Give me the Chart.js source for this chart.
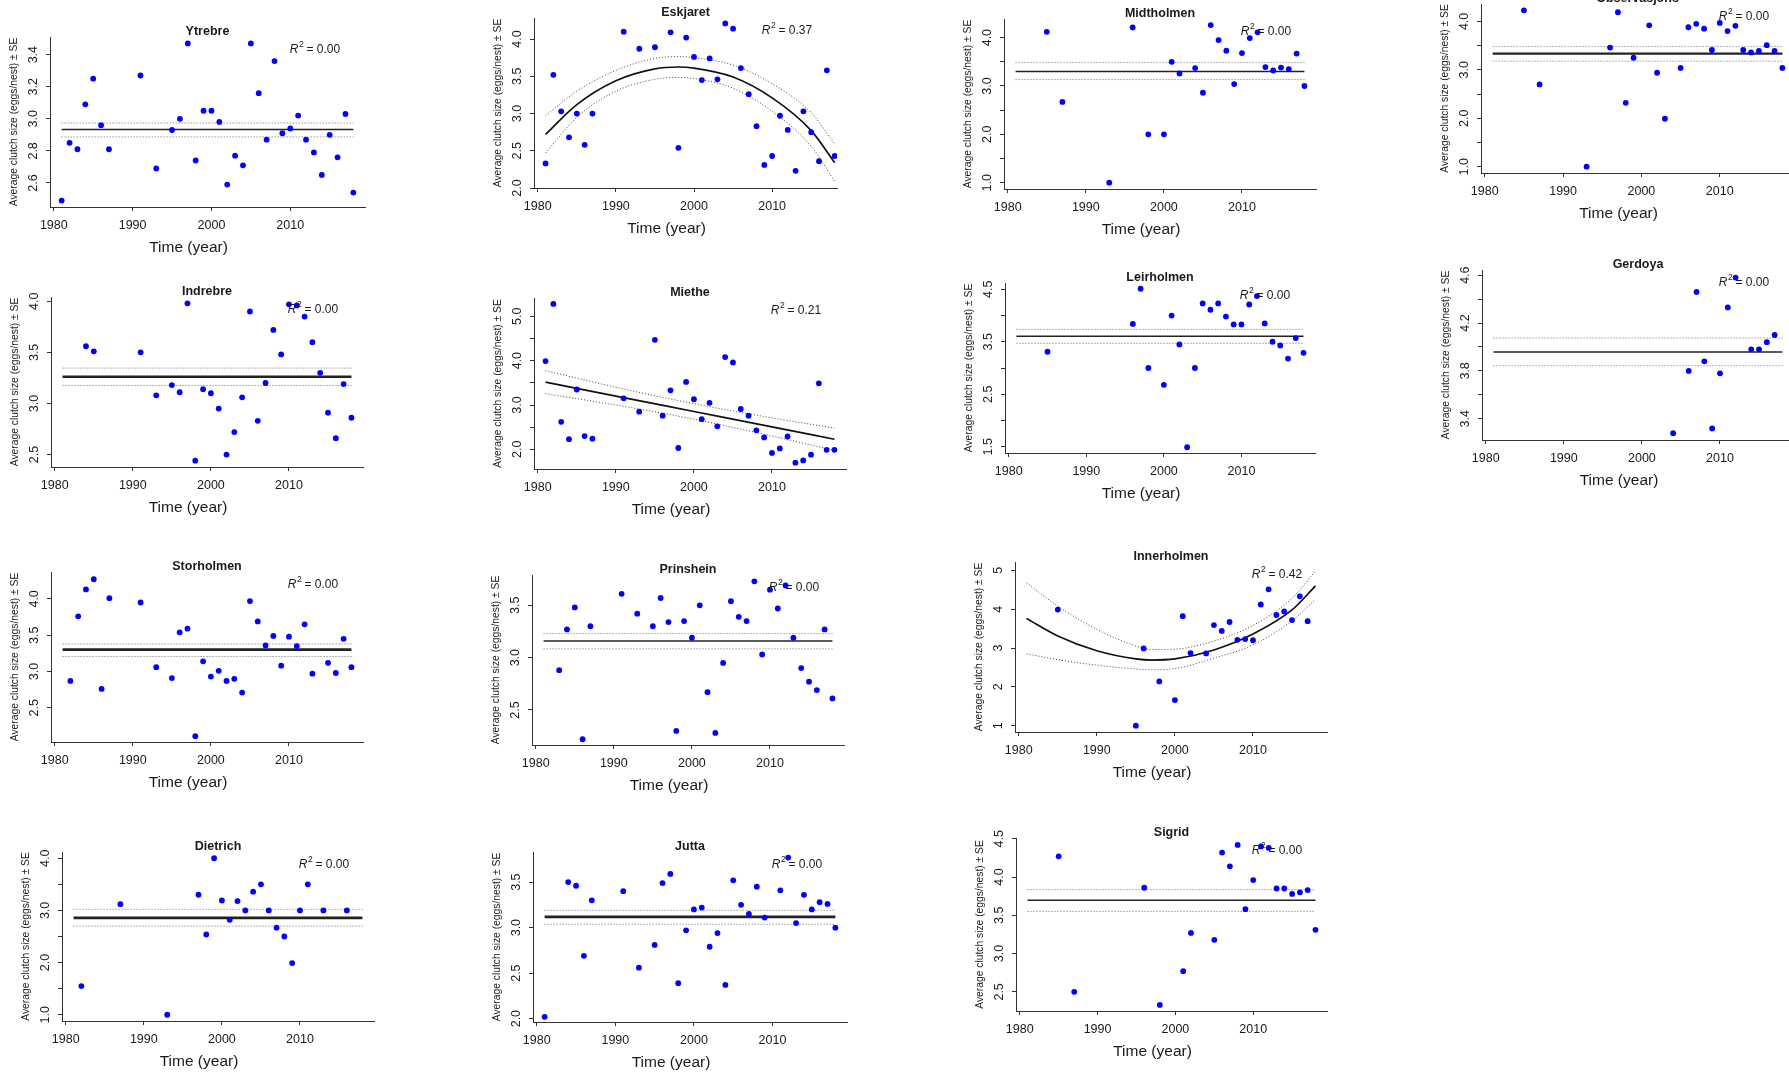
<!DOCTYPE html>
<html>
<head>
<meta charset="utf-8">
<script src="https://cdn.jsdelivr.net/npm/chart.js@4.4.0/dist/chart.umd.min.js"></script>
<style>
html, body { margin: 0; padding: 0; background: #fff; overflow: hidden; }
#page { position: relative; width: 1789px; height: 1076px; overflow: hidden; background: #fff; }
#page canvas { position: absolute; }
</style>
</head>
<body>
<div id="page"></div>
<script>
// ---- data ----
const yearTicks = [1980, 1990, 2000, 2010];

const ytrebreYears = [1981,1982,1983,1984,1985,1986,1987,1991,1993,1995,1996,1997,1998,1999,2000,2001,2002,2003,2004,2005,2006,2007,2008,2009,2010,2011,2012,2013,2014,2015,2016,2017,2018];
const ytrebreSize = [2.49,2.85,2.81,3.09,3.25,2.96,2.81,3.27,2.69,2.93,3.00,3.47,2.74,3.05,3.05,2.98,2.59,2.77,2.71,3.47,3.16,2.87,3.36,2.91,2.94,3.02,2.87,2.79,2.65,2.90,2.76,3.03,2.54];
const ytrebreMean = [2.934, 2.974, 2.887];

const eskjaretYears = [1981,1982,1983,1984,1985,1986,1987,1991,1993,1995,1997,1998,1999,2000,2001,2002,2003,2004,2005,2006,2007,2008,2009,2010,2011,2012,2013,2014,2015,2016,2017,2018];
const eskjaretSize = [2.33,3.52,3.03,2.68,3.00,2.58,3.00,4.10,3.87,3.89,4.09,2.54,4.02,3.76,3.45,3.74,3.46,4.21,4.14,3.61,3.26,2.83,2.31,2.43,2.97,2.78,2.23,3.03,2.75,2.36,3.58,2.43];
const eskjaretFitYears = [1981,1985,1990,1995,1998,2000,2005,2010,2015,2018];
const eskjaretFit = [2.72,3.12,3.44,3.60,3.625,3.61,3.49,3.21,2.77,2.34];
const eskjaretUpper = [2.97,3.30,3.58,3.74,3.765,3.75,3.65,3.40,3.01,2.59];
const eskjaretLower = [2.47,2.95,3.30,3.46,3.485,3.47,3.34,3.03,2.56,2.09];

const midtholmenYears = [1985,1987,1993,1996,1998,2000,2001,2002,2004,2005,2006,2007,2008,2009,2010,2011,2012,2013,2014,2015,2016,2017,2018];
const midtholmenSize = [4.12,2.67,1.00,4.21,2.00,2.00,3.50,3.26,3.37,2.86,4.26,3.95,3.73,3.04,3.68,3.99,4.11,3.39,3.32,3.38,3.35,3.67,3.00];
const midtholmenMean = [3.298, 3.484, 3.133];

const observYears = [1985,1987,1993,1996,1997,1998,1999,2001,2002,2003,2005,2006,2007,2008,2009,2010,2011,2012,2013,2014,2015,2016,2017,2018];
const observSize = [4.23,2.70,1.00,3.46,4.19,2.32,3.25,3.92,2.94,1.99,3.04,3.88,3.95,3.85,3.41,3.97,3.80,3.91,3.41,3.36,3.39,3.51,3.39,3.04];
const observMean = [3.337, 3.481, 3.180];

const indrebreYears = [1984,1985,1991,1993,1995,1996,1997,1998,1999,2000,2001,2002,2003,2004,2005,2006,2007,2008,2009,2010,2011,2012,2013,2014,2015,2016,2017,2018];
const indrebreSize = [3.56,3.51,3.50,3.08,3.18,3.11,3.98,2.44,3.14,3.10,2.95,2.50,2.72,3.06,3.90,2.83,3.20,3.72,3.48,3.97,3.96,3.85,3.60,3.30,2.91,2.66,3.19,2.86];
const indrebreMean = [3.261, 3.346, 3.176];

const mietheYears = [1981,1982,1983,1984,1985,1986,1987,1991,1993,1995,1996,1997,1998,1999,2000,2001,2002,2003,2004,2005,2006,2007,2008,2009,2010,2011,2012,2013,2014,2015,2016,2017,2018];
const mietheSize = [3.99,5.28,2.62,2.23,3.35,2.30,2.24,3.15,2.85,4.47,2.76,3.33,2.03,3.52,3.13,2.68,3.05,2.52,4.08,3.96,2.91,2.76,2.43,2.27,1.92,2.02,2.29,1.70,1.75,1.88,3.49,1.99,1.99];
const mietheFitYears = [1981,1990,2000,2010,2018];
const mietheFit = [3.515,3.202,2.854,2.506,2.227];
const mietheUpper = [3.775,3.40,3.03,2.71,2.48];
const mietheLower = [3.255,3.00,2.68,2.30,1.977];

const leirholmenYears = [1985,1996,1997,1998,2000,2001,2002,2003,2004,2005,2006,2007,2008,2009,2010,2011,2012,2013,2014,2015,2016,2017,2018];
const leirholmenSize = [3.31,3.84,4.51,3.00,2.68,4.00,3.45,1.49,3.00,4.23,4.11,4.23,3.98,3.83,3.83,4.21,4.37,3.85,3.50,3.43,3.18,3.57,3.29];
const leirholmenMean = [3.604, 3.737, 3.470];

const gerdoyaYears = [2004,2006,2007,2008,2009,2010,2011,2012,2014,2015,2016,2017];
const gerdoyaSize = [3.28,3.80,4.46,3.88,3.32,3.78,4.33,4.58,3.98,3.98,4.04,4.10];
const gerdoyaMean = [3.959, 4.075, 3.843];

const storholmenYears = [1982,1983,1984,1985,1986,1987,1991,1993,1995,1996,1997,1998,1999,2000,2001,2002,2003,2004,2005,2006,2007,2008,2009,2010,2011,2012,2013,2015,2016,2017,2018];
const storholmenSize = [2.87,3.76,4.13,4.27,2.76,4.01,3.95,3.06,2.91,3.54,3.59,2.11,3.14,2.93,3.01,2.87,2.90,2.71,3.97,3.69,3.36,3.49,3.08,3.48,3.35,3.65,2.97,3.12,2.98,3.45,3.06];
const storholmenMean = [3.302, 3.380, 3.207];

const prinsheinYears = [1983,1984,1985,1986,1987,1991,1993,1995,1996,1997,1998,1999,2000,2001,2002,2003,2004,2005,2006,2007,2008,2009,2010,2011,2012,2013,2014,2015,2016,2017,2018];
const prinsheinSize = [2.88,3.27,3.48,2.22,3.30,3.61,3.42,3.30,3.57,3.34,2.30,3.35,3.19,3.50,2.67,2.28,2.95,3.54,3.39,3.35,3.73,3.03,3.65,3.47,3.69,3.19,2.90,2.77,2.69,3.27,2.61];
const prinsheinMean = [3.160, 3.230, 3.084];

const innerYears = [1985,1995,1996,1998,2000,2001,2002,2004,2005,2006,2007,2008,2009,2010,2011,2012,2013,2014,2015,2016,2017];
const innerSize = [3.99,1.00,2.99,2.14,1.66,3.82,2.87,2.86,3.59,3.44,3.67,3.21,3.23,3.20,4.12,4.51,3.85,3.94,3.72,4.33,3.69];
const innerFitYears = [1981,1985,1990,1995,1997,2000,2005,2010,2015,2018];
const innerFit = [3.76,3.31,2.93,2.72,2.69,2.72,2.95,3.36,3.98,4.60];
const innerUpper = [4.68,4.08,3.48,3.05,2.96,2.97,3.18,3.58,4.28,4.98];
const innerLower = [2.85,2.70,2.56,2.46,2.44,2.47,2.74,3.08,3.70,4.25];

const dietrichYears = [1982,1987,1993,1997,1998,1999,2000,2001,2002,2003,2004,2005,2006,2007,2008,2009,2010,2011,2013,2016];
const dietrichSize = [1.55,3.12,1.00,3.30,2.54,4.00,3.19,2.82,3.18,3.00,3.36,3.50,3.00,2.67,2.50,1.99,3.00,3.50,3.00,3.00];
const dietrichMean = [2.857, 3.021, 2.699];

const juttaYears = [1981,1984,1985,1986,1987,1991,1993,1995,1996,1997,1998,1999,2000,2001,2002,2003,2004,2005,2006,2007,2008,2009,2011,2012,2013,2014,2015,2016,2017,2018];
const juttaSize = [2.02,3.50,3.46,2.69,3.30,3.40,2.56,2.81,3.49,3.59,2.39,2.97,3.20,3.22,2.79,2.94,2.37,3.52,3.25,3.15,3.45,3.11,3.41,3.77,3.05,3.36,3.20,3.28,3.26,3.00];
const juttaMean = [3.118, 3.191, 3.037];

const sigridYears = [1985,1987,1996,1998,2001,2002,2005,2006,2007,2008,2009,2010,2011,2012,2013,2014,2015,2016,2017,2018];
const sigridSize = [4.27,2.50,3.86,2.33,2.77,3.27,3.18,4.32,4.14,4.42,3.58,3.96,4.40,4.38,3.85,3.85,3.78,3.80,3.83,3.31];
const sigridMean = [3.696, 3.836, 3.551];

// ---- panel table ----
const panels = [
  {name: 'Ytrebre', box: [50, 37, 365, 207], y: [2.45, 3.51], yTicks: [2.6,2.8,3.0,3.2,3.4], yLab: [2.6,2.8,3.0,3.2,3.4], years: ytrebreYears, size: ytrebreSize, mean: ytrebreMean, r2: '0.00'},
  {name: 'Eskjaret', box: [534, 18, 837, 188], xMax: 2018.3, y: [2.0, 4.283], yTicks: [2.0,2.5,3.0,3.5,4.0], yLab: [2.0,2.5,3.0,3.5,4.0], years: eskjaretYears, size: eskjaretSize, fit: [eskjaretFitYears, eskjaretFit, eskjaretUpper, eskjaretLower], r2: '0.37'},
  {name: 'Midtholmen', box: [1004, 19, 1316, 189], y: [0.87, 4.385], yTicks: [1.0,1.5,2.0,2.5,3.0,3.5,4.0], yLab: [1.0,2.0,3.0,4.0], years: midtholmenYears, size: midtholmenSize, mean: midtholmenMean, r2: '0.00'},
  {name: 'Observasjons', box: [1481, 4, 1794, 173], y: [0.87, 4.36], yTicks: [1.0,1.5,2.0,2.5,3.0,3.5,4.0], yLab: [1.0,2.0,3.0,4.0], years: observYears, size: observSize, mean: observMean, r2: '0.00', lw: 2.2},
  {name: 'Indrebre', box: [51, 297, 363, 467], y: [2.378, 4.042], yTicks: [2.5,3.0,3.5,4.0], yLab: [2.5,3.0,3.5,4.0], years: indrebreYears, size: indrebreSize, mean: indrebreMean, r2: '0.00', lw: 2.6},
  {name: 'Miethe', box: [534, 298, 846, 469], y: [1.557, 5.413], yTicks: [2.0,2.5,3.0,3.5,4.0,4.5,5.0], yLab: [2.0,3.0,4.0,5.0], years: mietheYears, size: mietheSize, fit: [mietheFitYears, mietheFit, mietheUpper, mietheLower], r2: '0.21'},
  {name: 'Leirholmen', box: [1005, 283, 1315, 453], y: [1.38, 4.62], yTicks: [1.5,2.0,2.5,3.0,3.5,4.0,4.5], yLab: [1.5,2.5,3.5,4.5], years: leirholmenYears, size: leirholmenSize, mean: leirholmenMean, r2: '0.00'},
  {name: 'Gerdoya', box: [1482, 270, 1794, 440], y: [3.223, 4.643], yTicks: [3.4,3.6,3.8,4.0,4.2,4.4,4.6], yLab: [3.4,3.8,4.2,4.6], years: gerdoyaYears, size: gerdoyaSize, mean: gerdoyaMean, r2: '0.00'},
  {name: 'Storholmen', box: [51, 572, 363, 742], y: [2.03, 4.37], yTicks: [2.5,3.0,3.5,4.0], yLab: [2.5,3.0,3.5,4.0], years: storholmenYears, size: storholmenSize, mean: storholmenMean, r2: '0.00', lw: 2.6},
  {name: 'Prinshein', box: [532, 575, 844, 745], y: [2.165, 3.79], yTicks: [2.5,3.0,3.5], yLab: [2.5,3.0,3.5], years: prinsheinYears, size: prinsheinSize, mean: prinsheinMean, r2: '0.00'},
  {name: 'Innerholmen', box: [1015, 562, 1327, 732], y: [0.838, 5.214], yTicks: [1,2,3,4,5], yLab: [1,2,3,4,5], dec: 0, years: innerYears, size: innerSize, fit: [innerFitYears, innerFit, innerUpper, innerLower], r2: '0.42'},
  {name: 'Dietrich', box: [62, 852, 374, 1021], y: [0.88, 4.12], yTicks: [1.0,1.5,2.0,2.5,3.0,3.5,4.0], yLab: [1.0,2.0,3.0,4.0], years: dietrichYears, size: dietrichSize, mean: dietrichMean, r2: '0.00', lw: 2.6},
  {name: 'Jutta', box: [533, 852, 847, 1022], y: [1.963, 3.831], yTicks: [2.0,2.5,3.0,3.5], yLab: [2.0,2.5,3.0,3.5], years: juttaYears, size: juttaSize, mean: juttaMean, r2: '0.00', lw: 2.6},
  {name: 'Sigrid', box: [1016, 838, 1327, 1011], y: [2.25, 4.51], yTicks: [2.5,3.0,3.5,4.0,4.5], yLab: [2.5,3.0,3.5,4.0,4.5], years: sigridYears, size: sigridSize, mean: sigridMean, r2: '0.00'}
];

const FONT = '"Liberation Sans", Arial, sans-serif';
const INK = '#1a1a1a';

// R-style labels: title, tick labels, axis titles, R^2
const rText = {
  id: 'rText',
  afterDraw(chart, args, o) {
    const ctx = chart.ctx, a = chart.chartArea;
    const xs = chart.scales.x, ys = chart.scales.y;
    const cx = (a.left + a.right) / 2;
    ctx.save();
    ctx.fillStyle = INK;
    ctx.textAlign = 'center';
    ctx.textBaseline = 'middle';

    ctx.font = 'bold 12.5px ' + FONT;
    ctx.fillText(o.title, cx, a.top - 5.5);

    ctx.font = '12.5px ' + FONT;
    yearTicks.forEach(v => ctx.fillText(String(v), xs.getPixelForValue(v), a.bottom + 18.5));

    ctx.font = '15.5px ' + FONT;
    ctx.fillText('Time (year)', cx - 19, a.bottom + 41);

    ctx.font = '12.5px ' + FONT;
    o.yLab.forEach(v => {
      ctx.save();
      ctx.translate(a.left - 16, ys.getPixelForValue(v));
      ctx.rotate(-Math.PI / 2);
      ctx.fillText(v.toFixed(o.dec), 0, 0);
      ctx.restore();
    });

    ctx.save();
    ctx.font = '10.3px ' + FONT;
    ctx.translate(a.left - 35.5, (a.top + a.bottom) / 2);
    ctx.rotate(-Math.PI / 2);
    ctx.fillText('Average clutch size (eggs/nest) \u00b1 SE', 0, 0);
    ctx.restore();

    // R^2 = ...
    const rx = a.right - 50, ry = a.top + 13;
    ctx.textAlign = 'left';
    ctx.font = 'italic 12px ' + FONT;
    const wR = ctx.measureText('R').width;
    ctx.font = '8.5px ' + FONT;
    const w2 = ctx.measureText('2').width;
    ctx.font = '12px ' + FONT;
    const rest = ' = ' + o.r2;
    const wRest = ctx.measureText(rest).width;
    let x0 = rx - (wR + w2 + wRest) / 2;
    ctx.font = 'italic 12px ' + FONT;
    ctx.fillText('R', x0, ry);
    ctx.font = '8.5px ' + FONT;
    ctx.fillText('2', x0 + wR + 0.5, ry - 5);
    ctx.font = '12px ' + FONT;
    ctx.fillText(rest, x0 + wR + w2, ry);
    ctx.restore();
  }
};

const page = document.getElementById('page');
const PAD_L = 60, PAD_T = 26, PAD_R = 8, PAD_B = 52;

function pairs(xs, ys) {
  return xs.map((x, i) => ({x: x, y: ys[i]}));
}

function flat(v) {
  return [{x: 1981, y: v}, {x: 2018, y: v}];
}

function makePanel(p) {
  const w = p.box[2] - p.box[0], h = p.box[3] - p.box[1];
  const c = document.createElement('canvas');
  c.width = w + PAD_L + PAD_R;
  c.height = h + PAD_T + PAD_B;
  c.style.left = (p.box[0] - PAD_L) + 'px';
  c.style.top = (p.box[1] - PAD_T) + 'px';
  c.style.width = c.width + 'px';
  c.style.height = c.height + 'px';
  page.appendChild(c);

  const dotted = {type: 'line', borderColor: '#6a6a6a', borderWidth: 1, borderDash: [1, 2], pointRadius: 0, fill: false};
  const datasets = [{
    type: 'scatter',
    data: pairs(p.years, p.size),
    pointRadius: 2.9,
    pointBackgroundColor: '#0000ff',
    pointBorderWidth: 0,
    borderColor: '#0000ff'
  }];
  if (p.mean) {
    datasets.push({type: 'line', data: flat(p.mean[0]), borderColor: '#222', borderWidth: p.lw || 1.5, pointRadius: 0, fill: false});
    datasets.push(Object.assign({}, dotted, {data: flat(p.mean[1])}));
    datasets.push(Object.assign({}, dotted, {data: flat(p.mean[2])}));
  }
  if (p.fit) {
    const fy = p.fit[0];
    datasets.push({type: 'line', data: pairs(fy, p.fit[1]), borderColor: '#111', borderWidth: 1.7, pointRadius: 0, fill: false, cubicInterpolationMode: 'monotone'});
    datasets.push(Object.assign({}, dotted, {data: pairs(fy, p.fit[2]), cubicInterpolationMode: 'monotone', borderColor: '#444'}));
    datasets.push(Object.assign({}, dotted, {data: pairs(fy, p.fit[3]), cubicInterpolationMode: 'monotone', borderColor: '#444'}));
  }

  const axis = {
    type: 'linear',
    ticks: {display: false},
    grid: {display: true, drawOnChartArea: false, drawTicks: true, tickLength: 4, color: '#333', lineWidth: 1},
    border: {display: true, color: '#333', width: 1}
  };

  new Chart(c, {
    type: 'scatter',
    data: {datasets: datasets},
    options: {
      responsive: false,
      animation: false,
      devicePixelRatio: 1,
      events: [],
      layout: {padding: {left: 0, top: PAD_T, right: PAD_R, bottom: 0}},
      plugins: {
        legend: {display: false},
        tooltip: {enabled: false},
        rText: {title: p.name, yLab: p.yLab, dec: p.dec === undefined ? 1 : p.dec, r2: p.r2}
      },
      scales: {
        x: Object.assign({}, axis, {
          position: 'bottom',
          min: 1979.52,
          max: p.xMax || 2019.48,
          afterBuildTicks: s => { s.ticks = yearTicks.map(v => ({value: v})); },
          afterFit: s => { s.height = PAD_B; }
        }),
        y: Object.assign({}, axis, {
          position: 'left',
          min: p.y[0],
          max: p.y[1],
          afterBuildTicks: s => { s.ticks = p.yTicks.map(v => ({value: v})); },
          afterFit: s => { s.width = PAD_L; }
        })
      }
    },
    plugins: [rText]
  });
}

panels.forEach(makePanel);
</script>
</body>
</html>
